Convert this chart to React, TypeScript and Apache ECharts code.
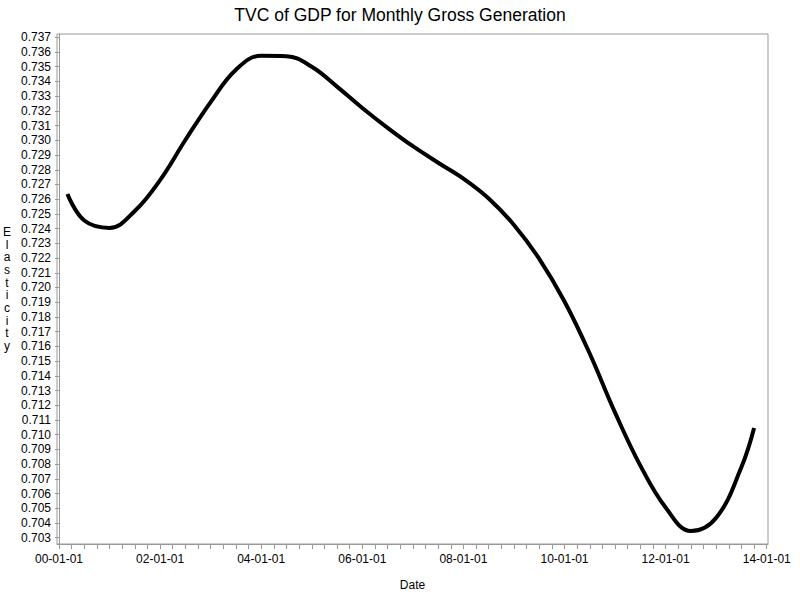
import React, { useEffect, useRef } from "react";
import * as echarts from "echarts";

const titleText = "TVC of GDP for Monthly Gross Generation";
const xAxisTitle = "Date";
const yAxisTitle = "Elasticity";

const dates = [
  "2000-03", "2000-07", "2001-01", "2001-07", "2002-01", "2002-07",
  "2003-01", "2003-07", "2004-01", "2004-07", "2005-01", "2005-07",
  "2006-01", "2006-07", "2007-01", "2007-07", "2008-01", "2008-07",
  "2009-01", "2009-07", "2010-01", "2010-07", "2011-01", "2011-07",
  "2012-01", "2012-07", "2013-01", "2013-07", "2013-10",
];

const values = [
  0.72635, 0.72455, 0.72405, 0.7252, 0.7273, 0.73002,
  0.7326, 0.7348, 0.73575, 0.73572, 0.735, 0.73365,
  0.7322, 0.73085, 0.7296, 0.72848, 0.7274, 0.72605,
  0.72425, 0.72195, 0.71905, 0.7155, 0.7115, 0.7079,
  0.70505, 0.70345, 0.70435, 0.7078, 0.71045,
];

const xTickLabels = [
  "00-01-01", "02-01-01", "04-01-01", "06-01-01",
  "08-01-01", "10-01-01", "12-01-01", "14-01-01",
];
const xTickMonths = [0, 24, 48, 72, 96, 120, 144, 168];

const yTicks = [
  0.703, 0.704, 0.705, 0.706, 0.707, 0.708, 0.709, 0.71, 0.711, 0.712,
  0.713, 0.714, 0.715, 0.716, 0.717, 0.718, 0.719, 0.72, 0.721, 0.722,
  0.723, 0.724, 0.725, 0.726, 0.727, 0.728, 0.729, 0.73, 0.731, 0.732,
  0.733, 0.734, 0.735, 0.736, 0.737,
];

const toMonths = (d: string) => {
  const [y, m] = d.split("-").map(Number);
  return (y - 2000) * 12 + (m - 1);
};

export default function App() {
  const ref = useRef<HTMLDivElement>(null);
  useEffect(() => {
    if (!ref.current) return;
    const chart = echarts.init(ref.current, null, { renderer: "svg" });
    const font = "'Liberation Sans', Arial, sans-serif";
    const minorTicks: number[] = [];
    for (let i = 0; i <= 168; i += 3) minorTicks.push(i);
    chart.setOption({
      animation: false,
      backgroundColor: "#ffffff",
      textStyle: { fontFamily: font },
      title: {
        text: titleText,
        left: "center",
        top: 1,
        textStyle: { fontSize: 17.5, fontWeight: "normal", color: "#000", fontFamily: font },
      },
      grid: {
        left: 57,
        right: 32,
        top: 34,
        bottom: 56,
        show: true,
        borderColor: "#999",
        borderWidth: 1,
      },
      xAxis: {
        type: "value",
        min: -0.47,
        max: 168.3,
        name: xAxisTitle,
        nameLocation: "middle",
        nameGap: 35,
        nameTextStyle: { fontSize: 12, color: "#000", fontFamily: font },
        splitLine: { show: false },
        axisLine: { show: true, lineStyle: { color: "#999" } },
        axisTick: {
          show: true,
          length: 5,
          customValues: minorTicks,
          lineStyle: { color: "#999" },
        },
        axisLabel: {
          customValues: xTickMonths,
          margin: 9,
          fontSize: 12,
          color: "#000",
          fontFamily: font,
          formatter: (v: number) => {
            const i = xTickMonths.indexOf(Math.round(v));
            return i >= 0 ? xTickLabels[i] : "";
          },
        },
      },
      yAxis: {
        type: "value",
        min: 0.702572,
        max: 0.737224,
        name: yAxisTitle.split("").join("\n"),
        nameLocation: "middle",
        nameRotate: 0,
        nameGap: 50,
        nameTextStyle: {
          fontSize: 12,
          lineHeight: 12.7,
          color: "#000",
          fontFamily: font,
          align: "center",
          verticalAlign: "middle",
        },
        splitLine: { show: false },
        axisLine: { show: true, lineStyle: { color: "#999" } },
        axisTick: {
          show: true,
          length: 4,
          customValues: yTicks,
          lineStyle: { color: "#999" },
        },
        axisLabel: {
          customValues: yTicks,
          margin: 6,
          fontSize: 12,
          color: "#000",
          fontFamily: font,
          formatter: (v: number) => v.toFixed(3),
        },
      },
      series: [
        {
          type: "line",
          data: dates.map((d, i) => [toMonths(d), values[i]]),
          smooth: 0.4,
          showSymbol: false,
          symbol: "none",
          lineStyle: { color: "#000", width: 4 },
        },
      ],
    });
    return () => chart.dispose();
  }, []);
  return (
    <div
      ref={ref}
      style={{ position: "fixed", left: 0, top: 0, width: 800, height: 600 }}
    />
  );
}
